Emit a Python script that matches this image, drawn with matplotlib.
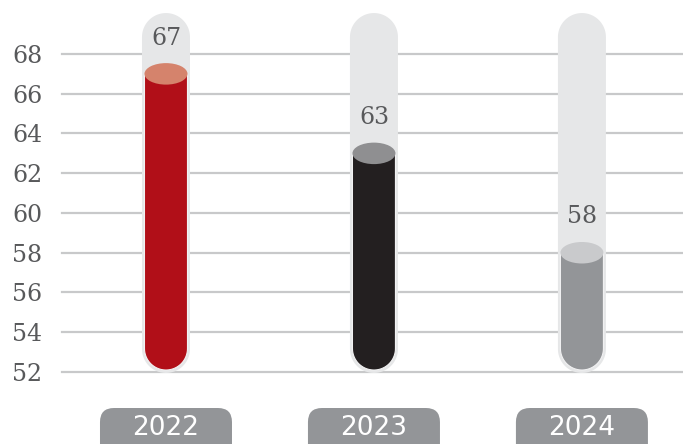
import numpy as np
import matplotlib
matplotlib.use("Agg")
import matplotlib.pyplot as plt
from matplotlib.patches import Polygon, Ellipse, FancyBboxPatch
from matplotlib.transforms import IdentityTransform

years = ["2022", "2023", "2024"]
values = [67, 63, 58]
fill_colors = ["#b10f18", "#231f20", "#939598"]
top_colors = ["#d5836c", "#8f8f91", "#c9cacc"]
y_ticks = [52, 54, 56, 58, 60, 62, 64, 66, 68]

W, H = 683, 444
fig = plt.figure(figsize=(W / 100, H / 100), dpi=100)
ax = fig.add_axes([62 / W, 72 / H, 621 / W, 367.7 / H])
ax.set_xlim(-0.5, 2.486)
ax.set_ylim(52, 70.5)

# pixels per data unit, used to keep the round caps round
sx = 621 / (2.486 + 0.5)
sy = 367.7 / (70.5 - 52)


def capsule(xc, y_bot, y_top, half_w, round_top=True, n=40):
    rx, ry = half_w / sx, half_w / sy
    t = np.linspace(np.pi, 2 * np.pi, n)
    bottom = np.column_stack([xc + rx * np.cos(t), y_bot + ry + ry * np.sin(t)])
    if round_top:
        t2 = np.linspace(0, np.pi, n)
        top = np.column_stack([xc + rx * np.cos(t2), y_top - ry + ry * np.sin(t2)])
    else:
        top = np.array([[xc + rx, y_top], [xc - rx, y_top]])
    return np.vstack([bottom, top])


for i, (val, fc, tc) in enumerate(zip(values, fill_colors, top_colors)):
    # glass tube
    ax.add_patch(Polygon(capsule(i, 51.95, 70.06, 24), closed=True,
                         facecolor="#e6e7e8", edgecolor="none", zorder=2,
                         clip_on=False))
    # liquid
    ax.add_patch(Polygon(capsule(i, 52.1, val, 21.5, round_top=False), closed=True,
                         facecolor=fc, edgecolor="#f2f2f3", lw=0.8, zorder=3,
                         clip_on=False))
    ax.add_patch(Ellipse((i, val), 43 / sx, 21.5 / sy, facecolor=tc,
                         edgecolor="none", zorder=4))
    ax.text(i, val + 1.8, str(val), ha="center", va="center",
            family="DejaVu Serif", fontsize=17, color="#58595b", zorder=5)

ax.set_yticks(y_ticks)
ax.set_xticks([])
ax.grid(axis="y", color="#c8c9ca", lw=1.6)
for gl in ax.get_ygridlines():
    gl.set_clip_on(False)
ax.set_axisbelow(True)
for s in ax.spines.values():
    s.set_visible(False)
ax.tick_params(axis="y", length=0, pad=14, labelsize=17, labelcolor="#58595b")
for lab in ax.get_yticklabels():
    lab.set_family("DejaVu Serif")

# year pills under each tube
for i, yr in enumerate(years):
    px, _ = ax.transData.transform((i, 52))
    ax.add_artist(FancyBboxPatch((px - 66 + 14, -20 + 14), 132 - 28, 56 - 28,
                                 boxstyle="round,pad=14", transform=IdentityTransform(),
                                 facecolor="#939598", edgecolor="none",
                                 clip_on=False, figure=fig))
    fig.text(px / W, 16 / H, yr, ha="center", va="center", color="white",
             fontsize=19, family="DejaVu Sans")

fig.savefig("out.png", dpi=100)
